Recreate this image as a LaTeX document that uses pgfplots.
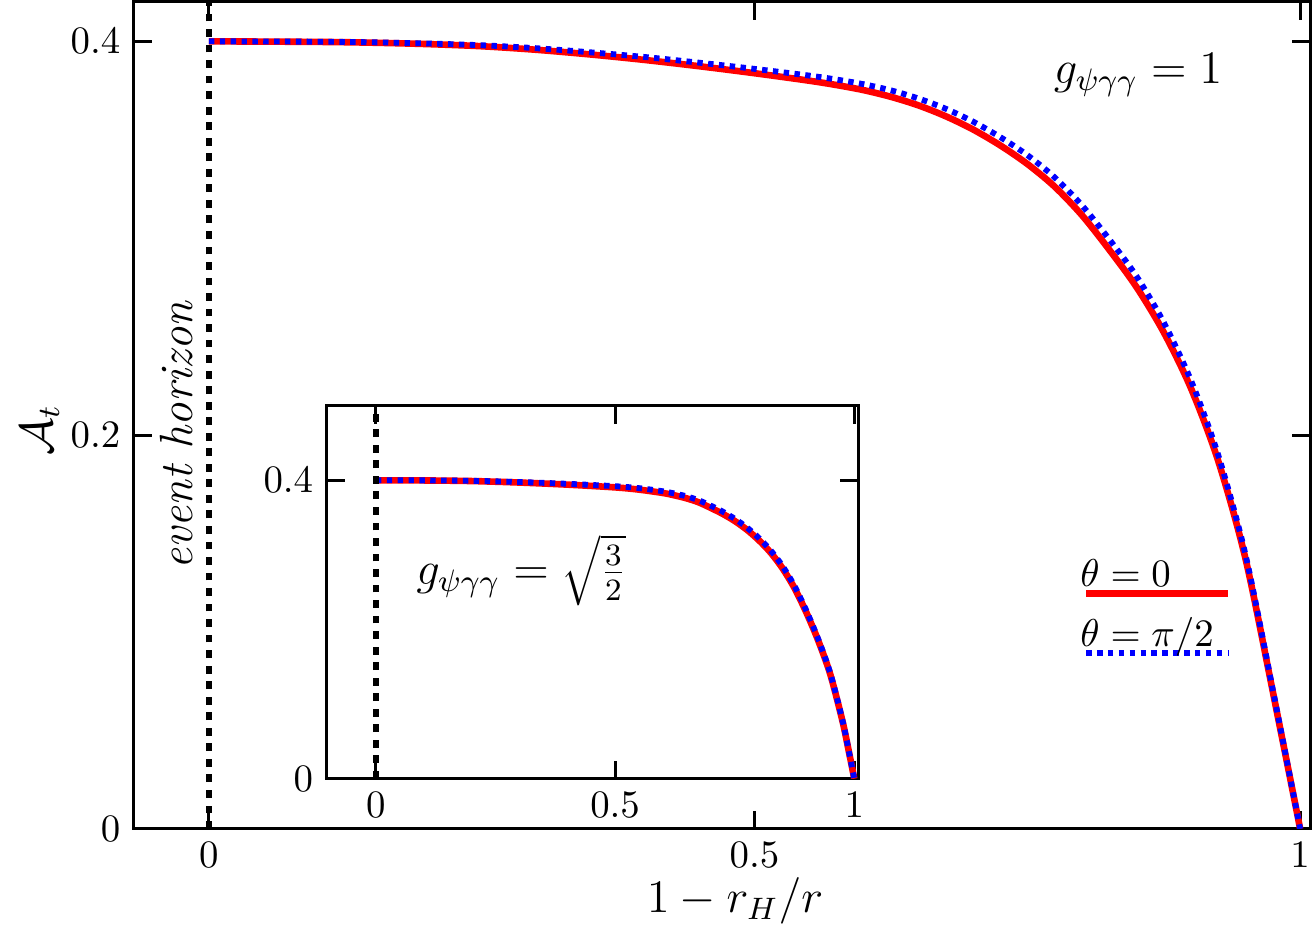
\documentclass[border=0pt]{standalone}
\usepackage{pgfplots}
\pgfplotsset{compat=1.18}
\begin{document}
\begin{tikzpicture}
\useasboundingbox (-34.5pt,-25.5pt) rectangle (304.5pt,213.5pt);
\pgfplotsset{
  every axis/.append style={
    scale only axis,
    axis line style={line width=0.8pt},
    every tick/.style={black, line width=0.8pt},
    tick align=inside,
    major tick length=4.7pt,
    tick label style={font=\normalsize},
  },
}
\begin{axis}[
  name=main,
  at={(0pt,0pt)}, anchor=south west,
  width=303pt, height=213pt,
  xmin=-0.0687, xmax=1.0092, ymin=0, ymax=0.42,
  xtick={0,0.5,1}, ytick={0,0.2,0.4},
  yticklabel style={/pgf/number format/fixed},
  xlabel={$1-r_H/r$}, ylabel={$\mathcal{A}_t$},
  label style={font=\large},
  xlabel style={at={(axis description cs:0.511,-0.087)}, anchor=center},
  ylabel style={at={(axis description cs:-0.08,0.482)}, anchor=center},
  legend style={at={(rel axis cs:0.7974,0.336)}, anchor=north west, draw=none, fill=none,
    inner sep=0pt, column sep=0pt, row sep=2.5pt, font=\normalsize},
  legend cell align=left,
  legend image code/.code={\draw[#1, overlay] (3.5pt,-4.6pt) -- (40.1pt,-4.6pt);},
]
\addplot[red, line width=1.7pt, smooth] coordinates {
(0,0.4000) (0.1,0.3997) (0.15,0.3993) (0.2,0.3986) (0.25,0.3975) (0.3,0.3957)
(0.35,0.3933) (0.4,0.3905) (0.45,0.3873) (0.5,0.3838) (0.55,0.3800) (0.575,0.3778)
(0.6,0.3752) (0.625,0.3718) (0.65,0.3675) (0.675,0.3620) (0.7,0.3553) (0.725,0.3472)
(0.75,0.3377) (0.775,0.3262) (0.8,0.3117) (0.825,0.2942) (0.85,0.2752) (0.875,0.2522)
(0.9,0.2237) (0.925,0.1867) (0.95,0.1370) (0.975,0.0695) (1.0,0.0)
};
\addlegendentry{$\theta=0$}
\addplot[blue, line width=1.5pt, dash pattern=on 1.4pt off 1.4pt, smooth] coordinates {
(0,0.4000) (0.1,0.3998) (0.15,0.3995) (0.2,0.3989) (0.25,0.3980) (0.3,0.3965)
(0.35,0.3944) (0.4,0.3920) (0.45,0.3891) (0.5,0.3860) (0.55,0.3826) (0.575,0.3806)
(0.6,0.3782) (0.625,0.3751) (0.65,0.3710) (0.675,0.3658) (0.7,0.3593) (0.725,0.3514)
(0.75,0.3422) (0.775,0.3309) (0.8,0.3167) (0.825,0.2995) (0.85,0.2807) (0.875,0.2572)
(0.9,0.2277) (0.925,0.1897) (0.95,0.1390) (0.975,0.0705) (1.0,0.0)
};
\addlegendentry{$\theta=\pi/2$}
\addplot[black, line width=1.5pt, dash pattern=on 2pt off 2pt, forget plot] coordinates {(0,0) (0,0.42)};
\node[font=\large] at (axis cs:0.8515,0.3827) {$g_{\psi\gamma\gamma}=1$};
\node[font=\large\itshape, rotate=90] at (axis cs:-0.030,0.1997) {event horizon};
\end{axis}
\begin{axis}[
  name=inset,
  at={(49.7pt,12.9pt)}, anchor=south west,
  width=136.9pt, height=96.1pt,
  xmin=-0.1025, xmax=1.0084, ymin=0, ymax=0.5,
  xtick={0,0.5,1}, ytick={0,0.4},
  axis background/.style={fill=white},
]
\addplot[red, line width=1.7pt, smooth] coordinates {
(0,0.4000) (0.1,0.3998) (0.2,0.3990) (0.3,0.3970) (0.4,0.3942) (0.5,0.3905)
(0.55,0.3875) (0.6,0.3830) (0.625,0.3797) (0.65,0.3757) (0.675,0.3704) (0.7,0.3630)
(0.725,0.3550) (0.75,0.3455) (0.775,0.3340) (0.8,0.3200) (0.825,0.3032) (0.85,0.2820)
(0.875,0.2555) (0.9,0.2225) (0.925,0.1845) (0.95,0.1395) (0.975,0.0780) (0.9875,0.0400)
(1.0,0.0)
};
\addplot[blue, line width=1.5pt, dash pattern=on 1.4pt off 1.4pt, smooth] coordinates {
(0,0.4000) (0.1,0.3999) (0.2,0.3993) (0.3,0.3977) (0.4,0.3953) (0.5,0.3921)
(0.55,0.3895) (0.6,0.3853) (0.625,0.3822) (0.65,0.3784) (0.675,0.3732) (0.7,0.3660)
(0.725,0.3580) (0.75,0.3485) (0.775,0.3370) (0.8,0.3230) (0.825,0.3062) (0.85,0.2850)
(0.875,0.2583) (0.9,0.2250) (0.925,0.1865) (0.95,0.1410) (0.975,0.0790) (0.9875,0.0405)
(1.0,0.0)
};
\addplot[black, line width=1.5pt, dash pattern=on 2pt off 2pt] coordinates {(0,0) (0,0.5)};
\node[font=\large] at (axis cs:0.304,0.279) {$g_{\psi\gamma\gamma}=\sqrt{\frac{3}{2}}$};
\end{axis}
\end{tikzpicture}
\end{document}
